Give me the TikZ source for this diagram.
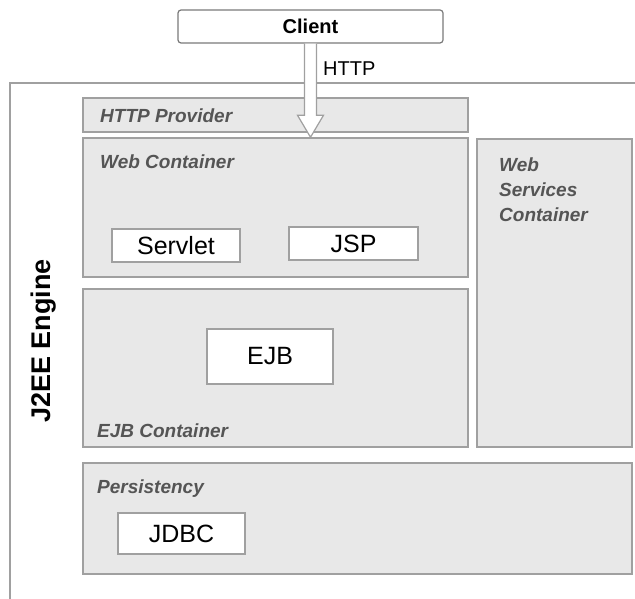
\documentclass[tikz,border=0pt]{standalone}
\usepackage{fontspec}
\setmainfont{Liberation Sans}
\usetikzlibrary{calc,fit}
\definecolor{panel}{HTML}{E8E8E8}
\definecolor{rim}{HTML}{A0A0A0}
\definecolor{darkrim}{HTML}{7A7A7A}
\definecolor{caption}{HTML}{555555}
\begin{document}
\begin{tikzpicture}[x=1pt,y=-1pt,
  panelbox/.style={draw=rim, line width=1.5pt, fill=panel, inner sep=0pt},
  itembox/.style={draw=rim, line width=1.5pt, fill=white, inner sep=0pt},
  itemtext/.style={inner sep=0pt, font=\fontsize{25}{28}\selectfont},
  caplabel/.style={text=caption, inner sep=0pt, anchor=base west,
    font=\fontsize{19}{25}\selectfont\bfseries\itshape},
  arrowline/.style={draw=rim, line width=1.2pt, fill=white, line join=miter}]
\useasboundingbox (0,0) rectangle (635,599);

% engine frame: open on the right and at the bottom
\coordinate (frameR) at (635,83);
\coordinate (frameTL) at (10,83);
\coordinate (frameB) at (10,599);
\draw[rim, line width=1.5pt] (frameR) -- (frameTL) -- (frameB);
\node[rotate=90, inner sep=0pt, font=\fontsize{27}{30}\selectfont\bfseries] (engine) at (44,341) {J2EE Engine};

% client
\node[draw=darkrim, line width=1.2pt, fill=white, rounded corners=3pt, inner sep=0pt,
  fit={(178,10) (443,43)}] (client) {};
\node[inner sep=0pt, font=\fontsize{20}{22}\selectfont\bfseries] (clientlbl) at (client.center) {Client};

% containers
\node[panelbox, fit={(83,98) (468,132)}] (prov) {};
\node[caplabel] (provlbl) at (100,123) {HTTP Provider};

\node[panelbox, fit={(83,138) (468,277)}] (webc) {};
\node[caplabel] (weblbl) at (100,168) {Web Container};

\node[panelbox, fit={(477,139) (632,447)}] (wsc) {};
% base anchor of a multi-line node sits on its last line
\node[caplabel, align=left] (wslbl) at (499,222) {Web\\Services\\Container};

\node[panelbox, fit={(83,289) (468,447)}] (ejbc) {};
\node[caplabel] (ejblbl) at (97,437) {EJB Container};

\node[panelbox, fit={(83,463) (632,574)}] (pers) {};
\node[caplabel] (perslbl) at (97,493) {Persistency};

% components
\node[itembox, fit={(112,229) (240,262)}] (servletbox) {};
\node[itemtext] (servlet) at (servletbox.center) {Servlet};
\node[itembox, fit={(289,227) (418,260)}] (jspbox) {};
\node[itemtext] (jsp) at (jspbox.center) {JSP};
\node[itembox, fit={(207,329) (333,384)}] (ejbbox) {};
\node[itemtext] (ejb) at (ejbbox.center) {EJB};
\node[itembox, fit={(118,513) (245,554)}] (jdbcbox) {};
\node[itemtext] (jdbc) at (jdbcbox.center) {JDBC};

% HTTP request arrow from the client into the web container
\coordinate (tip) at (client.south |- webc.north);
\draw[arrowline] ($(client.south)+(-6,0)$) -- ($(tip)+(-6,-22)$) -- ($(tip)+(-13,-22)$)
  -- (tip) -- ($(tip)+(13,-22)$) -- ($(tip)+(6,-22)$) -- ($(client.south)+(6,0)$);
\node[inner sep=0pt, anchor=base west, font=\fontsize{20}{24}\selectfont] (http) at (323,76) {HTTP};
\end{tikzpicture}
\end{document}
